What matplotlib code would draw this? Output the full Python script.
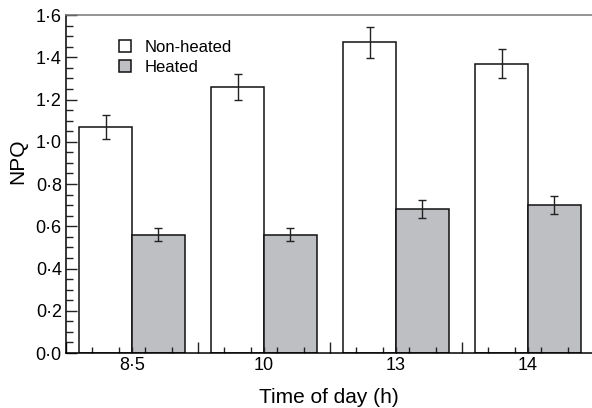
import numpy as np
import matplotlib.pyplot as plt
from matplotlib.ticker import FuncFormatter

plt.rcParams['font.family'] = ['Liberation Sans', 'DejaVu Sans']

# --- dados ---
times = ['8·5', '10', '13', '14']
non_heated = [1.07, 1.26, 1.47, 1.37]
non_heated_err = [0.055, 0.06, 0.072, 0.067]
heated = [0.56, 0.56, 0.68, 0.70]
heated_err = [0.03, 0.03, 0.043, 0.042]

x = np.arange(len(times))
w = 0.4

fig = plt.figure(figsize=(5.92, 4.08), dpi=100)
ax = fig.add_axes([0.1115, 0.1348, 0.8885, 0.8284])

err_kw = dict(elinewidth=1, capsize=3, capthick=1, ecolor='#222222')
ax.bar(x - w / 2, non_heated, w, yerr=non_heated_err, color='white',
       edgecolor='#111111', linewidth=1.1, error_kw=err_kw, label='Non-heated')
ax.bar(x + w / 2, heated, w, yerr=heated_err, color='#bebfc2',
       edgecolor='#111111', linewidth=1.1, error_kw=err_kw, label='Heated')

ax.set_xlim(-0.5, 3.485)
ax.set_ylim(0, 1.6)

# eixo x: ticks maiores nas fronteiras, menores a cada 0.2, rótulos no centro
bounds = [-0.5, 0.5, 1.5, 2.5]
ax.set_xticks(bounds, [''] * len(bounds))
minor_pos = []
minor_lab = []
for i in range(len(times)):
    for k in range(1, 5):
        minor_pos.append(i - 0.5 + 0.2 * k)
        minor_lab.append('')
    minor_pos.append(i)
    minor_lab.append(times[i])
ax.set_xticks(minor_pos, minor_lab, minor=True)

ax.set_yticks(np.arange(0, 1.61, 0.2))
ax.set_yticks(np.arange(0, 1.61, 0.05), minor=True)
ax.yaxis.set_major_formatter(FuncFormatter(lambda v, p: f'{v:.1f}'.replace('.', '·')))

ax.tick_params(axis='both', which='both', direction='in', labelsize=13, width=1, color='#222222')
ax.tick_params(axis='y', which='major', length=8, pad=3)
ax.tick_params(axis='y', which='minor', length=5)
ax.tick_params(axis='x', which='major', length=8)
ax.tick_params(axis='x', which='minor', length=4, pad=3)

ax.spines['right'].set_visible(False)
ax.spines['top'].set_color('#777777')
for s in ['left', 'bottom', 'top']:
    ax.spines[s].set_linewidth(1.1)

ax.set_ylabel('NPQ', fontsize=15)
ax.yaxis.set_label_coords(-0.074, 0.568)
ax.set_xlabel('Time of day (h)', fontsize=15, labelpad=10)

ax.legend(loc='upper left', bbox_to_anchor=(0.1008, 0.926), frameon=False,
          fontsize=12, handlelength=0.7, handleheight=0.7, handletextpad=0.85,
          labelspacing=0.28, borderpad=0, borderaxespad=0)

fig.savefig('out.png', dpi=100)
